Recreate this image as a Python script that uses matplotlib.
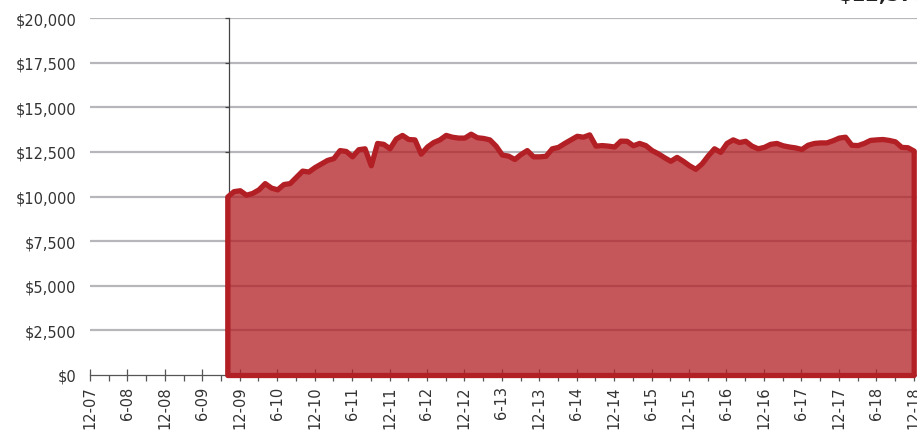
import numpy as np
import matplotlib
matplotlib.use("Agg")
from matplotlib import pyplot as plt
from matplotlib.ticker import MultipleLocator, FuncFormatter

# months counted from 12-07 (month 0)
start_month = 22
end_month = 132
growth = [10000, 10300, 10350, 10100, 10200, 10400, 10750, 10500, 10400, 10700,
          10750, 11100, 11450, 11400, 11650, 11850, 12050, 12150, 12600, 12550,
          12250, 12650, 12700, 11750, 13000, 12950, 12700, 13250, 13450, 13220,
          13200, 12400, 12800, 13050, 13200, 13450, 13350, 13300, 13300, 13520,
          13320, 13280, 13200, 12850, 12350, 12290, 12100, 12380, 12600, 12250,
          12250, 12280, 12700, 12780, 13000, 13200, 13400, 13350, 13480, 12850,
          12880, 12850, 12800, 13130, 13120, 12870, 13000, 12880, 12600, 12420,
          12200, 12000, 12220, 12000, 11750, 11550, 11850, 12300, 12700, 12500,
          13000, 13200, 13050, 13120, 12850, 12700, 12780, 12950, 13000, 12870,
          12800, 12750, 12660, 12900, 13000, 13030, 13030, 13150, 13300, 13350,
          12900, 12880, 13000, 13170, 13200, 13220, 13170, 13090, 12780, 12760,
          12570]
tick_labels = ['12-07', '6-08', '12-08', '6-09', '12-09', '6-10', '12-10', '6-11',
               '12-11', '6-12', '12-12', '6-13', '12-13', '6-14', '12-14', '6-15',
               '12-15', '6-16', '12-16', '6-17', '12-17', '6-18', '12-18']
y_ticks = [0, 2500, 5000, 7500, 10000, 12500, 15000, 17500, 20000]

months = np.arange(start_month, end_month + 1)
line_col = '#B21F24'

fig = plt.figure(figsize=(9.17, 4.31), dpi=100)
ax = fig.add_axes([90 / 917, 55 / 431, 827 / 917, 357 / 431])

ax.set_xlim(0, 132.53)
ax.set_ylim(0, 20000)

for yv in y_ticks[1:]:
    ax.axhline(yv, color='#B7B7BB', lw=1.6, zorder=1)

ax.fill_between(months, growth, 0, facecolor=(178 / 255, 31 / 255, 36 / 255, 0.75),
                edgecolor=line_col, linewidth=3.8, zorder=3, clip_on=False,
                joinstyle='round')

# y axis line sits where the data starts, labels stay on the left
ax.spines['left'].set_position(('data', start_month + 0.3))
ax.spines['left'].set_color('#444444')
ax.spines['left'].set_linewidth(0.9)
ax.spines['left'].set_zorder(2)
ax.spines['bottom'].set_color('#555555')
ax.spines['bottom'].set_linewidth(0.9)
for s in ['top', 'right']:
    ax.spines[s].set_visible(False)

ax.set_yticks(y_ticks)
ax.yaxis.set_major_formatter(FuncFormatter(lambda v, p: f'${v:,.0f}'))
ax.tick_params(axis='y', direction='out', length=3, width=0.9, color='#444444',
               pad=107, labelsize=10.5, labelcolor='#333333')

ax.set_xticks(np.arange(0, 133, 6))
ax.set_xticklabels(tick_labels, rotation=90)
ax.xaxis.set_minor_locator(MultipleLocator(3))
ax.tick_params(axis='x', which='major', direction='inout', length=9, width=0.9,
               color='#555555', labelsize=10.5, labelcolor='#333333', pad=3)
ax.tick_params(axis='x', which='minor', direction='out', length=4, width=0.9,
               color='#555555')

fig.text(838 / 917, 1 - 1.5 / 431, f'${growth[-1]:,.0f}', fontsize=14,
         fontweight='bold', color='#222222', ha='left', va='baseline')

fig.savefig('out.png', dpi=100)
